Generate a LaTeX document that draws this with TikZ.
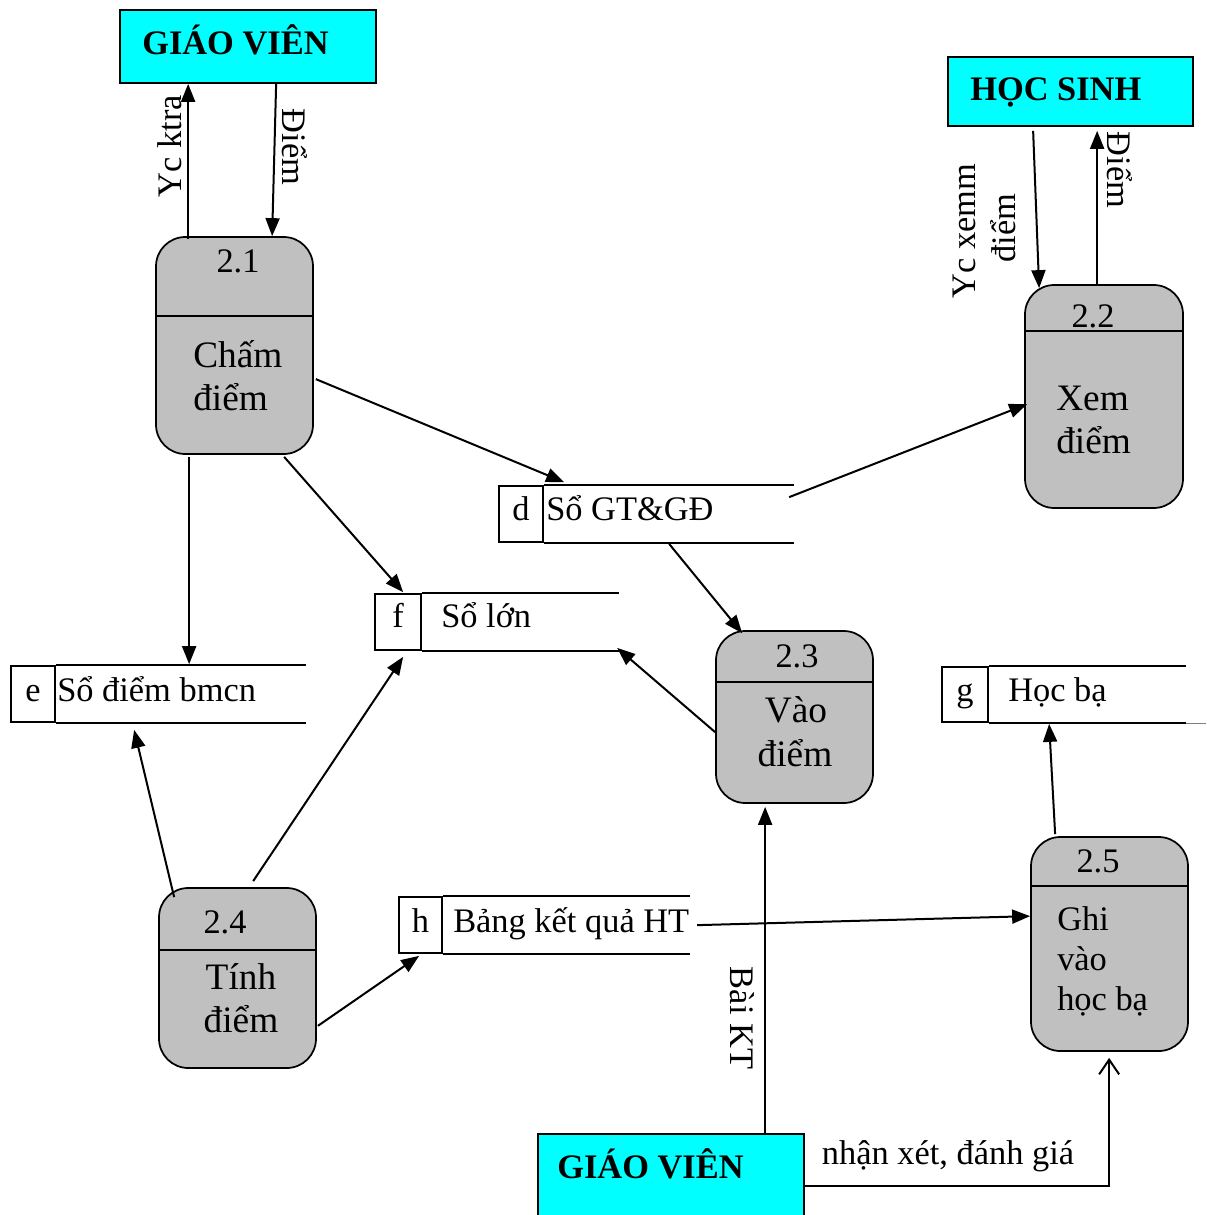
\documentclass[tikz,border=0pt]{standalone}
\usepackage{fontspec}
\setmainfont{Liberation Serif}
\usetikzlibrary{arrows.meta,calc}
\definecolor{entcyan}{HTML}{00FFFF}
\definecolor{procgray}{HTML}{C0C0C0}
\tikzset{
  proc/.style={draw, line width=1.3pt, fill=procgray, rounded corners=22pt, inner sep=0pt},
  ent/.style={draw, line width=1.3pt, fill=entcyan, inner sep=0pt},
  sbox/.style={draw, line width=1.3pt, inner sep=0pt},
  sline/.style={line width=1.3pt},
  flow/.style={line width=1.5pt, -{Triangle[length=13.5pt,width=10.5pt]}},
  openflow/.style={line width=1.5pt, -{Straight Barb[length=11pt,width=15pt,line width=1.5pt]}},
  txt/.style={inner sep=0pt, anchor=base},
  txtw/.style={inner sep=0pt, anchor=base west},
  big/.style={font=\fontsize{28}{32}\selectfont},
  bold/.style={font=\fontsize{25.8}{30}\selectfont\bfseries},
}
\begin{document}
\begin{tikzpicture}[x=0.75pt,y=-0.75pt,font=\fontsize{25.8}{30}\selectfont]
\clip (0,0) rectangle (1207,1215);
\fill[white] (0,0) rectangle (1207,1215);

% external entities
\node[ent, minimum width=192pt, minimum height=54.75pt] (gv1) at (248,46.5) {};
\node[txtw, bold] (gv1t) at (142,54) {GIÁO VIÊN};
\node[ent, minimum width=183.75pt, minimum height=51.75pt] (hs) at (1070.5,91.5) {};
\node[txtw, bold] (hst) at (970,100) {HỌC SINH};
\node[ent, minimum width=199.5pt, minimum height=76.5pt] (gv2) at (671,1185) {};
\node[txtw, bold] (gv2t) at (557,1178) {GIÁO VIÊN};

% processes
\node[proc, minimum width=117.75pt, minimum height=162.75pt] (p21) at (234.5,345.5) {};
\draw[sline] ($(p21.north west)+(0,80)$) -- ($(p21.north east)+(0,80)$);
\node[txt] (p21n) at (238,272) {2.1};
\node[txtw, big] (p21a) at (193,367) {Chấm};
\node[txtw, big] (p21b) at (193,410) {điểm};

\node[proc, minimum width=118.5pt, minimum height=167.25pt] (p22) at (1104,396.5) {};
\draw[sline] ($(p22.north west)+(0,47)$) -- ($(p22.north east)+(0,47)$);
\node[txt] (p22n) at (1093,327) {2.2};
\node[txtw, big] (p22a) at (1056,410) {Xem};
\node[txtw, big] (p22b) at (1056,453) {điểm};

\node[proc, minimum width=117.75pt, minimum height=129pt] (p23) at (794.5,717) {};
\draw[sline] ($(p23.north west)+(0,52)$) -- ($(p23.north east)+(0,52)$);
\node[txt] (p23n) at (797,667) {2.3};
\node[txt, big] (p23a) at (796,722) {Vào};
\node[txt, big] (p23b) at (795,766) {điểm};

\node[proc, minimum width=117.75pt, minimum height=135pt] (p24) at (237.5,978) {};
\draw[sline] ($(p24.north west)+(0,63)$) -- ($(p24.north east)+(0,63)$);
\node[txt] (p24n) at (225,933) {2.4};
\node[txt, big] (p24a) at (241,989) {Tính};
\node[txt, big] (p24b) at (241,1032) {điểm};

\node[proc, minimum width=117.75pt, minimum height=160.5pt] (p25) at (1109.5,944) {};
\draw[sline] ($(p25.north west)+(0,50)$) -- ($(p25.north east)+(0,50)$);
\node[txt] (p25n) at (1098,872) {2.5};
\node[txtw] (p25a) at (1057,930) {Ghi};
\node[txtw] (p25b) at (1057,970) {vào};
\node[txtw] (p25c) at (1057,1010) {học bạ};

% data stores
\node[sbox, minimum width=33pt, minimum height=42pt] (d) at (521,514) {};
\draw[sline] (d.north east) -- ++(250,0) (d.south east) -- ++(250,0);
\node[txt] (dl) at (521,520) {d};
\node[txtw] (dt) at (546,520) {Sổ GT\&GĐ};

\node[sbox, minimum width=34.5pt, minimum height=42pt] (f) at (398,622) {};
\draw[sline] (f.north east) -- ++(197,0) (f.south east) -- ++(197,0);
\node[txt] (fl) at (398,627) {f};
\node[txtw] (ft) at (441,627) {Sổ lớn};

\node[sbox, minimum width=33pt, minimum height=42pt] (e) at (33,694) {};
\draw[sline] (e.north east) -- ++(250,0) (e.south east) -- ++(250,0);
\node[txt] (el) at (33,701) {e};
\node[txtw] (et) at (57,701) {Sổ điểm bmcn};

\node[sbox, minimum width=34.5pt, minimum height=41.25pt] (g) at (965,694.5) {};
\draw[sline] (g.north east) -- ++(197,0) (g.south east) -- ++(197,0);
\draw[line width=0.5pt, gray] ($(g.south east)+(197,0)$) -- ++(20,0);
\node[txt] (gl) at (965,701) {g};
\node[txtw] (gt) at (1008,701) {Học bạ};

\node[sbox, minimum width=32.25pt, minimum height=42pt] (h) at (420.5,925) {};
\draw[sline] (h.north east) -- ++(247,0) (h.south east) -- ++(247,0);
\node[txt] (hl) at (420.5,932) {h};
\node[txtw] (ht) at (453,932) {Bảng kết quả HT};

% flows
\draw[flow] ($(p21.north west)+(33,3)$) -- ($(gv1.south west)+(69,0)$);
\node[txt, rotate=90] (l1) at (181,146) {Yc ktra};
\draw[flow] ($(gv1.south west)+(157,0)$) -- ($(p21.north west)+(117,0)$);
\node[txt, rotate=-90] (l2) at (282,147) {Điểm};

\draw[flow] ($(p21.north east)+(2,143)$) -- ($(d.north west)+(66,-3)$);
\draw[flow] ($(d.north west)+(291,12)$) -- ($(p22.north west)+(3,120)$);
\draw[flow] ($(p21.south west)+(129,2)$) -- ($(f.north west)+(29,-1)$);
\draw[flow] ($(p21.south west)+(34,2)$) -- ($(e.north west)+(179,-1)$);
\draw[flow] ($(d.south west)+(171,1)$) -- ($(p23.north west)+(27,3)$);
\draw[flow] ($(p23.north west)+(0,102)$) -- ($(f.south west)+(243,-3)$);
\draw[flow] ($(p24.north west)+(16,10)$) -- ($(e.south west)+(124,7)$);
\draw[flow] ($(p24.north west)+(95,-6)$) -- ($(f.south west)+(29,6)$);
\draw[flow] ($(p24.south east)+(1,-43)$) -- ($(h.south west)+(21,2)$);
\draw[flow] ($(h.north west)+(299,29)$) -- ($(p25.north west)+(0,80)$);
\draw[flow] ($(gv2.north west)+(228,0)$) -- ($(p23.south west)+(50,3)$);
\node[txt, rotate=-90] (l3) at (730,1018) {Bài KT};
\draw[flow] ($(p25.north west)+(25,-2)$) -- ($(g.south west)+(108,1)$);
\draw[openflow] ($(gv2.north east)+(-2,53)$) -| ($(p25.south west)+(79,6)$);
\node[txt] (l4) at (948,1164) {nhận xét, đánh giá};

\draw[flow] ($(hs.south west)+(86,4)$) -- ($(p22.north west)+(15,4)$);
\node[txt, rotate=90] (l5) at (975,231) {Yc xemm};
\node[txt, rotate=90] (l6) at (1015,228) {điểm};
\draw[flow] ($(p22.north west)+(73,0)$) -- ($(hs.south west)+(150,4)$);
\node[txt, rotate=-90] (l7) at (1107,170) {Điểm};
\end{tikzpicture}
\end{document}
